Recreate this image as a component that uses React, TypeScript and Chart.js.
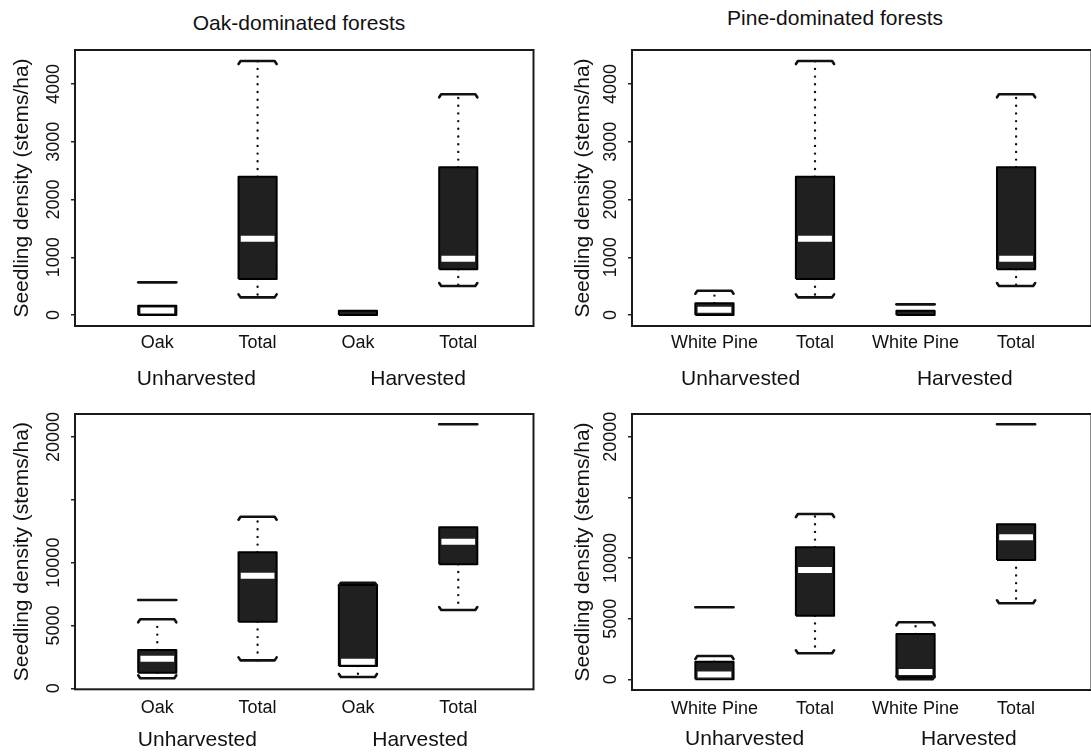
import React, { useEffect, useRef } from 'react';
import { Chart, registerables } from 'chart.js';

Chart.register(...registerables);

const FONT = '"Liberation Sans", Arial, Helvetica, sans-serif';
Chart.defaults.font.family = FONT;

// ---------- text ----------
const PANEL_TITLES = ['Oak-dominated forests', 'Pine-dominated forests'];
const Y_AXIS_TITLE = 'Seedling density (stems/ha)';
const GROUP_LABELS = ['Unharvested', 'Harvested'];
const OAK_CATEGORIES = ['Oak', 'Total', 'Oak', 'Total'];
const PINE_CATEGORIES = ['White Pine', 'Total', 'White Pine', 'Total'];

// ---------- tick labels ----------
const TOP_Y_TICKS = [0, 1000, 2000, 3000, 4000];
const TOP_Y_TICK_LABELS = ['0', '1000', '2000', '3000', '4000'];
const BOTTOM_Y_TICKS = [0, 5000, 10000, 15000, 20000];
const BOTTOM_Y_TICK_LABELS = ['0', '5000', '10000', '', '20000'];

// ---------- data: oak-dominated, top row ----------
const OAK_TOP_LOWER = [0, 306, 0, 502];
const OAK_TOP_Q1 = [0, 623, 0, 791];
const OAK_TOP_MEDIAN: (number | null)[] = [80, 1321, null, 975];
const OAK_TOP_Q3 = [161, 2395, 74, 2558];
const OAK_TOP_UPPER = [161, 4398, 74, 3822];
const OAK_TOP_OUTLIERS = [[566], [], [], []];

// ---------- data: pine-dominated, top row ----------
const PINE_TOP_LOWER = [0, 306, 0, 502];
const PINE_TOP_Q1 = [0, 623, 0, 791];
const PINE_TOP_MEDIAN: (number | null)[] = [92, 1321, null, 975];
const PINE_TOP_Q3 = [203, 2395, 74, 2558];
const PINE_TOP_UPPER = [421, 4398, 74, 3822];
const PINE_TOP_OUTLIERS = [[], [], [185], []];

// ---------- data: oak-dominated, bottom row ----------
const OAK_BOTTOM_LOWER = [796, 2220, 900, 6231];
const OAK_BOTTOM_Q1 = [1241, 5300, 1775, 9868];
const OAK_BOTTOM_MEDIAN: (number | null)[] = [2347, 8961, 2117, 11666];
const OAK_BOTTOM_Q3 = [3048, 10823, 8220, 12812];
const OAK_BOTTOM_UPPER = [5491, 13656, 8404, 12812];
const OAK_BOTTOM_OUTLIERS = [[7027], [], [], [21009]];

// ---------- data: pine-dominated, bottom row ----------
const PINE_BOTTOM_LOWER = [0, 2143, 0, 6265];
const PINE_BOTTOM_Q1 = [0, 5243, 150, 9835];
const PINE_BOTTOM_MEDIAN: (number | null)[] = [400, 9011, 600, 11706];
const PINE_BOTTOM_Q3 = [1451, 10882, 3735, 12778];
const PINE_BOTTOM_UPPER = [1921, 13627, 4699, 12778];
const PINE_BOTTOM_OUTLIERS = [[5935], [], [], [21022]];

// ---------- layout / style constants ----------
const BOX_WIDTH = 0.38; // in x units
const X_MIN = 0.18;
const X_MAX = 4.75;
const INK = '#111';
const Y_TICK_LEN = 4;
const Y_LABEL_GAP = 21; // frame edge to centre of rotated y tick labels
const TICK_FONT_SIZE = 18;
const HOOK_PX = 3; // small bent ends on whisker caps

type Panel = {
  key: string;
  left: number; top: number; width: number; height: number;
  padTop: number; padRight: number; yAxisWidth: number; xAxisHeight: number;
  yMin: number; yMax: number; yTicks: number[]; yTickLabels: string[];
  yTitlePad: number; xTickPadding: number;
  categories: string[];
  lower: number[]; q1: number[]; median: (number | null)[]; q3: number[]; upper: number[]; outliers: number[][];
  groupPos: number[]; groupDy: number;
};

const PANELS: Panel[] = [
  {
    key: 'tl', left: 0, top: 40, width: 545, height: 355,
    padTop: 10, padRight: 11.5, yAxisWidth: 75, xAxisHeight: 69,
    yMin: -190, yMax: 4589, yTicks: TOP_Y_TICKS, yTickLabels: TOP_Y_TICK_LABELS,
    yTitlePad: 10, xTickPadding: 6,
    categories: OAK_CATEGORIES,
    lower: OAK_TOP_LOWER, q1: OAK_TOP_Q1, median: OAK_TOP_MEDIAN, q3: OAK_TOP_Q3, upper: OAK_TOP_UPPER, outliers: OAK_TOP_OUTLIERS,
    groupPos: [1.39, 3.6], groupDy: 53.5,
  },
  {
    key: 'tr', left: 545, top: 40, width: 560, height: 355,
    padTop: 10, padRight: 13.5, yAxisWidth: 87, xAxisHeight: 69,
    yMin: -190, yMax: 4589, yTicks: TOP_Y_TICKS, yTickLabels: TOP_Y_TICK_LABELS,
    yTitlePad: 25.4, xTickPadding: 6,
    categories: PINE_CATEGORIES,
    lower: PINE_TOP_LOWER, q1: PINE_TOP_Q1, median: PINE_TOP_MEDIAN, q3: PINE_TOP_Q3, upper: PINE_TOP_UPPER, outliers: PINE_TOP_OUTLIERS,
    groupPos: [1.26, 3.49], groupDy: 53.5,
  },
  {
    key: 'bl', left: 0, top: 395, width: 545, height: 357,
    padTop: 19, padRight: 11.5, yAxisWidth: 75, xAxisHeight: 62.7,
    yMin: -80, yMax: 21829, yTicks: BOTTOM_Y_TICKS, yTickLabels: BOTTOM_Y_TICK_LABELS,
    yTitlePad: 10, xTickPadding: 8,
    categories: OAK_CATEGORIES,
    lower: OAK_BOTTOM_LOWER, q1: OAK_BOTTOM_Q1, median: OAK_BOTTOM_MEDIAN, q3: OAK_BOTTOM_Q3, upper: OAK_BOTTOM_UPPER, outliers: OAK_BOTTOM_OUTLIERS,
    groupPos: [1.4, 3.62], groupDy: 50.5,
  },
  {
    key: 'br', left: 545, top: 395, width: 560, height: 357,
    padTop: 19, padRight: 13.5, yAxisWidth: 87, xAxisHeight: 62,
    yMin: -882, yMax: 21872, yTicks: BOTTOM_Y_TICKS, yTickLabels: BOTTOM_Y_TICK_LABELS,
    yTitlePad: 25.4, xTickPadding: 8,
    categories: PINE_CATEGORIES,
    lower: PINE_BOTTOM_LOWER, q1: PINE_BOTTOM_Q1, median: PINE_BOTTOM_MEDIAN, q3: PINE_BOTTOM_Q3, upper: PINE_BOTTOM_UPPER, outliers: PINE_BOTTOM_OUTLIERS,
    groupPos: [1.3, 3.53], groupDy: 49.5,
  },
];

function widestLabel(labels: string[]): number {
  const c = document.createElement('canvas').getContext('2d');
  if (!c) return 0;
  c.font = `${TICK_FONT_SIZE}px ${FONT}`;
  return Math.max(...labels.map((l) => c.measureText(l).width));
}

const framePlugin = {
  id: 'frame',
  afterDraw(chart: any) {
    const { ctx, chartArea: a } = chart;
    ctx.save();
    ctx.strokeStyle = '#1a1a1a';
    ctx.lineWidth = 2;
    ctx.strokeRect(a.left, a.top, a.right - a.left, a.bottom - a.top);
    ctx.restore();
  },
};

const groupLabelPlugin = {
  id: 'groupLabels',
  afterDraw(chart: any, _args: any, opts: any) {
    if (!opts || !opts.labels) return;
    const { ctx, chartArea: a } = chart;
    const xs = chart.scales.x;
    ctx.save();
    ctx.fillStyle = INK;
    ctx.font = `21px ${FONT}`;
    ctx.textAlign = 'center';
    ctx.textBaseline = 'middle';
    opts.labels.forEach((t: string, i: number) => {
      ctx.fillText(t, xs.getPixelForValue(opts.positions[i]), a.bottom + opts.dy);
    });
    ctx.restore();
  },
};

function BoxPanel({ p }: { p: Panel }) {
  const ref = useRef<HTMLCanvasElement | null>(null);
  useEffect(() => {
    if (!ref.current) return;
    const half = BOX_WIDTH / 2;
    const medHalf = half - 0.022;
    const bend = 0.02;
    const areaH = p.height - p.padTop - p.xAxisHeight;
    const hook = (HOOK_PX * (p.yMax - p.yMin)) / areaH;
    const xs = p.categories.map((_, i) => i + 1);
    const boxes = xs.map((x, i) => ({ x, y: [p.q1[i], p.q3[i]] }));
    const outlines: any[] = [];
    const whiskers: any[] = [];
    const caps: any[] = [];
    const outs: any[] = [];
    const meds: any[] = [];
    xs.forEach((x, i) => {
      outlines.push(
        { x: x - half, y: p.q1[i] }, { x: x - half, y: p.q3[i] }, { x: x + half, y: p.q3[i] },
        { x: x + half, y: p.q1[i] }, { x: x - half, y: p.q1[i] }, { x, y: null },
      );
      if (p.upper[i] > p.q3[i]) {
        const u = p.upper[i];
        whiskers.push({ x, y: p.q3[i] }, { x, y: u }, { x, y: null });
        caps.push(
          { x: x - half, y: u - hook }, { x: x - half + bend, y: u }, { x: x + half - bend, y: u },
          { x: x + half, y: u - hook }, { x, y: null },
        );
      }
      if (p.lower[i] < p.q1[i]) {
        const l = p.lower[i];
        whiskers.push({ x, y: p.q1[i] }, { x, y: l }, { x, y: null });
        caps.push(
          { x: x - half, y: l + hook }, { x: x - half + bend, y: l }, { x: x + half - bend, y: l },
          { x: x + half, y: l + hook }, { x, y: null },
        );
      }
      p.outliers[i].forEach((v) => {
        outs.push({ x: x - half, y: v }, { x: x + half, y: v }, { x, y: null });
      });
      const m = p.median[i];
      if (m !== null) {
        meds.push({ x: x - medHalf, y: m }, { x: x + medHalf, y: m }, { x, y: null });
      }
    });

    // Chart.js centres rotated labels at: right - tickLength - padding - widest/2
    const yTickPadding = Y_LABEL_GAP - Y_TICK_LEN - widestLabel(p.yTickLabels) / 2;

    const lineBase = { type: 'line', pointRadius: 0, spanGaps: false, tension: 0 };

    const chart = new Chart(ref.current, {
      type: 'bar',
      data: {
        datasets: [
          {
            type: 'bar', data: boxes as any, backgroundColor: '#202020', borderWidth: 0,
            barPercentage: BOX_WIDTH, categoryPercentage: 1, order: 4,
          } as any,
          { ...lineBase, data: whiskers, borderColor: INK, borderWidth: 2.4, borderDash: [0, 7.7], borderCapStyle: 'round', order: 5 } as any,
          { ...lineBase, data: outlines, borderColor: '#000', borderWidth: 2, borderJoinStyle: 'round', order: 3 } as any,
          { ...lineBase, data: caps, borderColor: INK, borderWidth: 2.6, borderCapStyle: 'round', borderJoinStyle: 'round', order: 2 } as any,
          { ...lineBase, data: outs, borderColor: INK, borderWidth: 2.6, borderCapStyle: 'round', order: 2 } as any,
          { ...lineBase, data: meds, borderColor: '#fff', borderWidth: 6, borderCapStyle: 'butt', order: 1 } as any,
        ],
      },
      options: {
        responsive: false,
        animation: false,
        events: [],
        layout: { padding: { top: p.padTop, right: p.padRight, left: 0, bottom: 0 } },
        plugins: {
          legend: { display: false },
          tooltip: { enabled: false },
          groupLabels: { labels: GROUP_LABELS, positions: p.groupPos, dy: p.groupDy },
        } as any,
        scales: {
          x: {
            type: 'linear', min: X_MIN, max: X_MAX, offset: false,
            grid: { display: false, drawTicks: false },
            border: { display: false },
            afterBuildTicks: (s: any) => { s.ticks = xs.map((v) => ({ value: v })); },
            afterFit: (s: any) => { s.height = p.xAxisHeight; },
            ticks: {
              autoSkip: false, maxRotation: 0, minRotation: 0, padding: p.xTickPadding,
              color: INK, font: { size: TICK_FONT_SIZE },
              callback: (_v: any, i: number) => p.categories[i],
            },
          },
          y: {
            type: 'linear', min: p.yMin, max: p.yMax,
            grid: { display: true, drawOnChartArea: false, drawTicks: true, tickLength: Y_TICK_LEN, color: '#222', lineWidth: 1.5 },
            border: { display: false },
            afterBuildTicks: (s: any) => { s.ticks = p.yTicks.map((v) => ({ value: v })); },
            afterFit: (s: any) => { s.width = p.yAxisWidth; },
            ticks: {
              autoSkip: false, minRotation: 90, maxRotation: 90, crossAlign: 'center',
              padding: yTickPadding, color: INK, font: { size: TICK_FONT_SIZE },
              callback: (_v: any, i: number) => p.yTickLabels[i],
            },
            title: {
              display: true, text: Y_AXIS_TITLE, color: INK, font: { size: 21 },
              padding: { top: p.yTitlePad, bottom: 0 },
            },
          },
        } as any,
      },
      plugins: [framePlugin, groupLabelPlugin],
    } as any);
    return () => chart.destroy();
  }, [p]);

  return (
    <canvas
      ref={ref}
      width={p.width}
      height={p.height}
      style={{ position: 'absolute', left: p.left, top: p.top, width: p.width, height: p.height }}
    />
  );
}

export default function App() {
  const titleStyle: React.CSSProperties = {
    position: 'absolute', transform: 'translate(-50%, -50%)', fontSize: 21,
    whiteSpace: 'nowrap', color: INK, fontFamily: FONT, lineHeight: 1,
  };
  return (
    <div style={{ position: 'absolute', left: 0, top: 0, width: 1091, height: 752, overflow: 'hidden', background: '#fff' }}>
      <div style={{ ...titleStyle, left: 299, top: 22 }}>{PANEL_TITLES[0]}</div>
      <div style={{ ...titleStyle, left: 835, top: 17 }}>{PANEL_TITLES[1]}</div>
      {PANELS.map((p) => <BoxPanel key={p.key} p={p} />)}
    </div>
  );
}
